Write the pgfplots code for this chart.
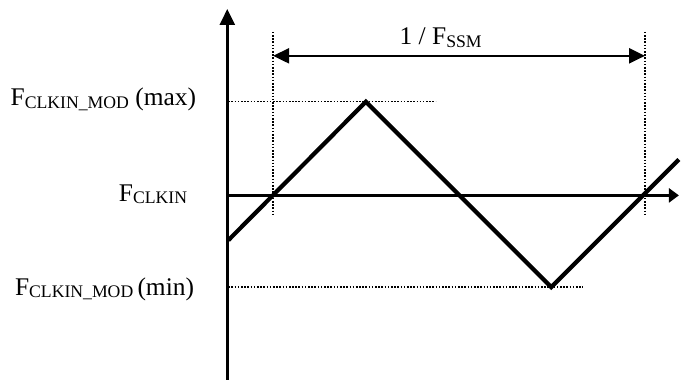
\documentclass[border=0pt]{standalone}
\usepackage{pgfplots}
\pgfplotsset{compat=1.18}
\usetikzlibrary{arrows.meta}
\usepackage{fontspec}
\setmainfont{Liberation Serif}

% small caps-height subscript as in the datasheet figure
\newcommand{\sub}[1]{\raisebox{-1.2bp}{\fontsize{8.9}{9}\selectfont #1}}

\begin{document}
\begin{tikzpicture}
\begin{axis}[
    scale only axis,
    width=340.5bp, height=190.5bp,
    xmin=0, xmax=681, ymin=0, ymax=381,
    hide axis,
    clip=false,
    font=\fontsize{12.8}{15}\selectfont,
]
\path (axis cs:0,0) rectangle (axis cs:681,381);

% axes
\draw[line width=0.75bp] (axis cs:228,281) -- (axis cs:228,360);
\draw[line width=1.3bp, -{Triangle[length=8bp,width=7.5bp]}] (axis cs:228,268) -- (axis cs:228,372);
\draw[line width=1.3bp] (axis cs:228,0) -- (axis cs:228,268);
\draw[line width=1.3bp, -{Triangle[length=5bp,width=7bp]}] (axis cs:228,185) -- (axis cs:681,185);

% dotted guides
\addplot[black, line width=0.8bp, dash pattern=on 0.8bp off 0.8bp] coordinates {(274,349) (274,165)};
\addplot[black, line width=0.8bp, dash pattern=on 0.8bp off 0.8bp] coordinates {(647,349) (647,165)};
\addplot[black, line width=0.8bp, dash pattern=on 0.8bp off 0.8bp] coordinates {(229,279) (437,279)};
\addplot[black, line width=0.8bp, dash pattern=on 0.8bp off 0.8bp] coordinates {(229,93) (585,93)};

% period arrow
\draw[line width=1.3bp, {Triangle[length=8bp,width=7.5bp]}-{Triangle[length=8bp,width=7.5bp]}]
    (axis cs:274,325) -- (axis cs:647,325);
\node[anchor=base] at (axis cs:442,336) {1 / F\sub{SSM}};

% modulated clock frequency
\addplot[black, line width=2.1bp, line join=miter] coordinates {
    (229,140) (367,279) (553,93) (681,221)};

% level labels
\node[anchor=base east, inner sep=0pt] at (axis cs:197,275) {F\sub{CLKIN\_MOD} (max)};
\node[anchor=base east, inner sep=0pt] at (axis cs:188,179) {F\sub{CLKIN}};
\node[anchor=base east, inner sep=0pt] at (axis cs:195,85) {F\sub{CLKIN\_MOD}\,(min)};
\end{axis}
\end{tikzpicture}
\end{document}
